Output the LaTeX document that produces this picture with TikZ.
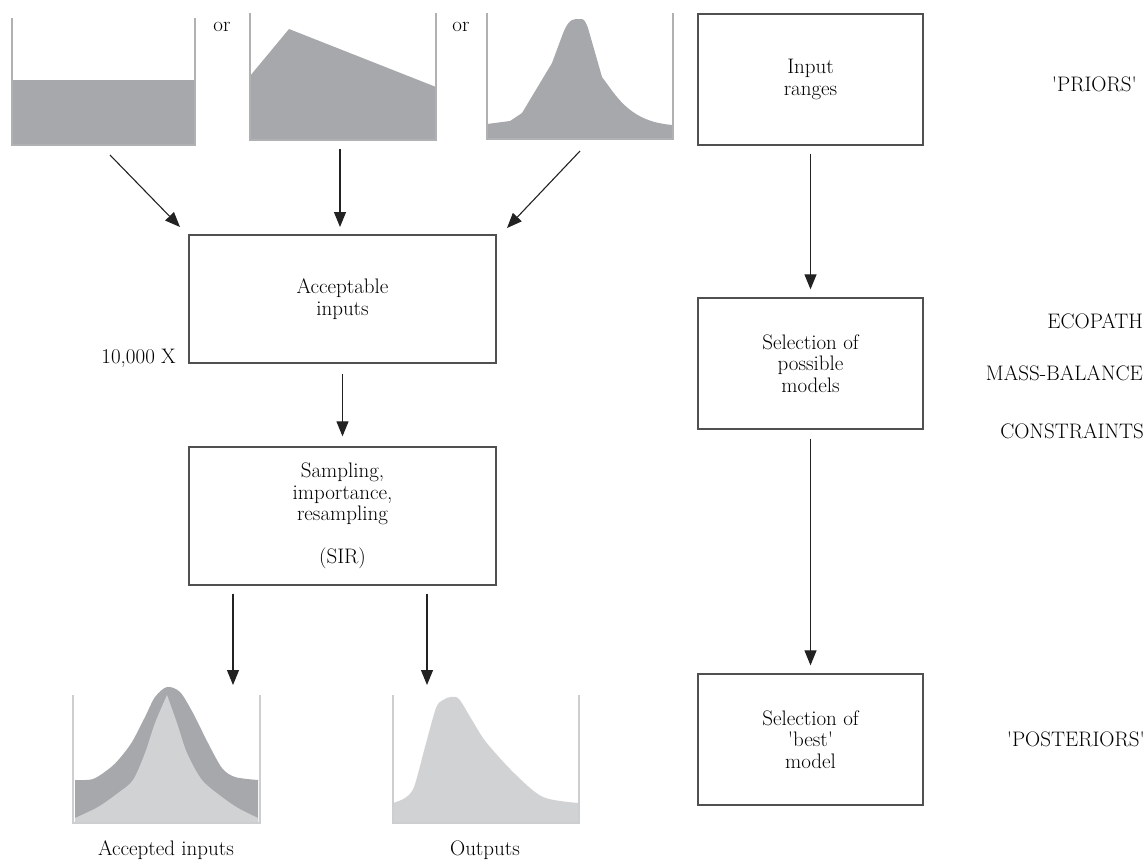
\documentclass[tikz,border=0pt]{standalone}
\usepackage{fontspec}
\usetikzlibrary{arrows.meta}
\definecolor{darkfill}{HTML}{A7A8AB}
\definecolor{lightfill}{HTML}{D1D2D4}
\definecolor{rimline}{HTML}{B0B1B3}
\definecolor{rimlight}{HTML}{CDCED0}
\definecolor{boxline}{HTML}{505050}
\definecolor{arrline}{HTML}{222222}
\newcommand{\sqt}{\textquotesingle}
\begin{document}
\begin{tikzpicture}[x=1pt,y=-1pt,
  font=\fontsize{21}{21.5}\selectfont,
  box/.style={draw=boxline, line width=1.3pt, align=center, inner sep=0pt,
              minimum width=225pt, minimum height=131pt},
  arr/.style={draw=arrline, line width=1.1pt, -{Triangle[width=12pt,length=15pt]}},
  rim/.style={draw=rimline, line width=1.6pt},
  rimb/.style={draw=rimlight, line width=1.6pt},
  lbl/.style={anchor=base, inner sep=0pt}]
\useasboundingbox (0,0) rectangle (1147,860);

% ---------- prior distributions (top left) ----------
\fill[darkfill] (12,80) rectangle (195,145);
\draw[rim] (12,18) -- (12,145) -- (195,145) -- (195,18);

\fill[darkfill] (250,140) -- (250,76) -- (289,29) -- (436,87) -- (436,140) -- cycle;
\draw[rim] (250,13) -- (250,140) -- (436,140) -- (436,13);

\fill[darkfill] (487,139) -- (487,124) -- (510,121) -- (522,113) -- (552,63)
  -- (562,36) .. controls (566,25) and (570,19) .. (576,19) -- (582,19)
  .. controls (585,20) and (586,23) .. (588,28) -- (602,77) -- (613,92)
  .. controls (628,112) and (645,123) .. (673,125) -- (673,139) -- cycle;
\draw[rim] (487,13) -- (487,139) -- (673,139) -- (673,13);

\node[lbl] (or1) at (222,31) {or};
\node[lbl] (or2) at (461,31) {or};

% ---------- left chain ----------
\node[box, minimum width=307pt, minimum height=128pt] (acc) at (342.5,299) {Acceptable\\inputs};
\node[box, minimum width=307pt, minimum height=138pt] (sir) at (342.5,516)
  {Sampling,\\importance,\\resampling\\[21pt](SIR)};
\node[lbl, anchor=base east] (times) at (176,363) {10,000 X};

\coordinate (d1) at (110,155);
\coordinate (d2) at (340,149);
\coordinate (d3) at (580,151);
\coordinate (t1) at (180,227);
\coordinate (t2) at (340,227);
\coordinate (t3) at (507,228);
\draw[arr] (d1) -- (t1);
\draw[arr] (d2) -- (t2);
\draw[arr] (d3) -- (t3);
\draw[arr, shorten <=10pt, shorten >=10pt] (acc.south) -- (sir.north);

\coordinate (ai) at (233,685);
\coordinate (ou) at (427,685);
\draw[arr, shorten <=8pt] (sir.south -| ai) -- (ai);
\draw[arr, shorten <=8pt] (sir.south -| ou) -- (ou);

% ---------- posterior distributions (bottom) ----------
\fill[darkfill] (75,822) -- plot[smooth, tension=0.5] coordinates {
  (75,780) (93,779) (110,768) (120,758) (132,742) (145,717) (155,697) (167,687)
  (180,692) (193,713) (208,743) (222,768) (235,777) (258,780)}
  -- (258,822) -- cycle;
\fill[lightfill] (75,822) -- plot[smooth, tension=0.5] coordinates {
  (75,818) (98,807) (118,793) (133,780) (145,753) (155,723) (167,695)}
  -- plot[smooth, tension=0.5] coordinates {
  (167,695) (177,723) (187,753) (202,780) (222,797) (238,808) (258,818)}
  -- (258,822) -- cycle;
\draw[rimb] (73,695) -- (73,823) -- (260,823) -- (260,695);

\fill[lightfill] (393,823) -- plot[smooth, tension=0.5] coordinates {
  (393,803) (405,798) (414,787) (425,747) (436,708) (443,700) (451,697) (459,699)
  (472,720) (486,742) (514,773) (543,797) (579,803)}
  -- (579,823) -- cycle;
\draw[rimb] (393,695) -- (393,823) -- (579,823) -- (579,695);

\node[lbl] (acclbl) at (166,855) {Accepted inputs};
\node[lbl] (outlbl) at (485,855) {Outputs};

% ---------- right chain ----------
\node[box] (inp) at (810.5,79.5) {Input\\ranges};
\node[box] (sel) at (810.5,363.5) {Selection of\\possible\\models};
\node[box] (best) at (810.5,739.5) {Selection of\\\sqt best\sqt\\model};
\draw[arr, shorten <=8pt, shorten >=8pt] (inp.south) -- (sel.north);
\draw[arr, shorten <=9pt, shorten >=8pt] (sel.south) -- (best.north);

\node[lbl, anchor=base east] (pri) at (1137,91) {\sqt PRIORS\sqt};
\node[lbl, anchor=base east] (eco) at (1143,328) {ECOPATH};
\node[lbl, anchor=base east] (mb) at (1143,380) {MASS-BALANCE};
\node[lbl, anchor=base east] (con) at (1144,438) {CONSTRAINTS};
\node[lbl, anchor=base east] (post) at (1145,746) {\sqt POSTERIORS\sqt};
\end{tikzpicture}
\end{document}
